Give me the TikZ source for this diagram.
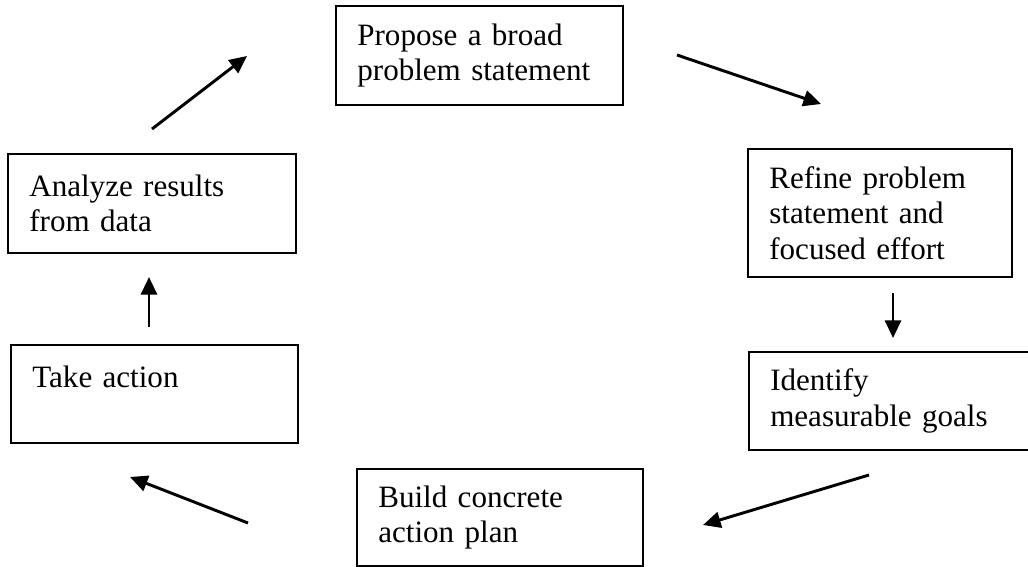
\documentclass[tikz,border=0pt]{standalone}
\usepackage{fontspec}
\setmainfont{Liberation Serif}
\usetikzlibrary{arrows.meta}
\tikzset{
  stepbox/.style={draw, line width=0.75pt, inner xsep=8pt, inner ysep=0pt, align=left,
    font=\fontsize{11.65}{13.3}\selectfont},
  flow/.style={line width=1.1pt, -{Triangle[length=6.6pt,width=6pt]}}
}

\begin{document}
\begin{tikzpicture}[x=0.375pt, y=-0.375pt]
			%%%%% START %%%%%
			\useasboundingbox (0, 0) rectangle (1028, 567);
			
			\node[stepbox, text width=91.6pt, minimum width=107.6pt, minimum height=37.1pt] (propose) at (479.5, 55.5) {Propose a broad\\problem statement};
			\node[stepbox, text width=83pt, minimum width=99pt, minimum height=48pt] (refine) at (880, 213) {Refine problem\\statement and\\focused effort};
			\node[stepbox, text width=91.3pt, minimum width=107.3pt, minimum height=36.75pt] (identify) at (892, 401) {Identify\\measurable goals};
			\node[stepbox, text width=91.25pt, minimum width=107.25pt, minimum height=36.4pt] (build) at (500, 517.5) {Build concrete\\action plan};
			\node[stepbox, text width=91.6pt, minimum width=107.6pt, minimum height=36.75pt] (take) at (154.5, 394) {Take action\\~};
			\node[stepbox, text width=92pt, minimum width=108pt, minimum height=37.1pt] (analyze) at (152, 203.5) {Analyze results\\from data};
			
			% arrow ends
			\coordinate (a1) at (152, 129);
			\coordinate (b1) at (247, 56);
			\coordinate (a2) at (677, 55);
			\coordinate (b2) at (821, 104);
			\coordinate (a3) at (893, 293);
			\coordinate (b3) at (893, 338);
			\coordinate (a4) at (869, 475);
			\coordinate (b4) at (703, 525);
			\coordinate (a5) at (248, 523);
			\coordinate (b5) at (130, 477);
			\coordinate (a6) at (149, 327);
			\coordinate (b6) at (149, 277);
			
			\draw[flow] (a1) -- (b1);
			\draw[flow] (a2) -- (b2);
			\draw[flow] (a3) -- (b3);
			\draw[flow] (a4) -- (b4);
			\draw[flow] (a5) -- (b5);
			\draw[flow] (a6) -- (b6);
			
			%%%%% END %%%%%
\end{tikzpicture}
\end{document}
